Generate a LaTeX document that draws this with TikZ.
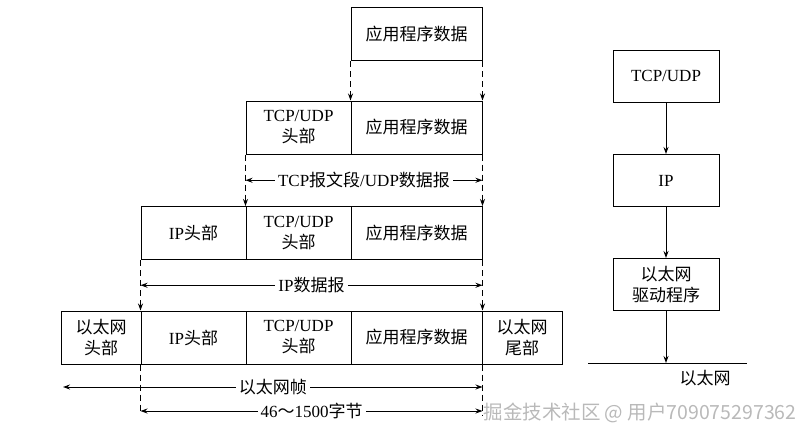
\documentclass[tikz,border=0pt]{standalone}
\usepackage{fontspec}
\setmainfont{Liberation Serif}
\newfontfamily\cjk{Noto Sans CJK SC}
\newcommand{\zh}[1]{{\cjk #1}}
\usetikzlibrary{arrows.meta, calc}

\begin{document}
\begin{tikzpicture}[x=1pt, y=-1pt, line width=1pt,
    cell/.style={draw, minimum height=53pt, inner sep=0pt, align=center, font=\fontsize{17}{21}\selectfont},
    lbl/.style={fill=white, inner sep=3pt, font=\fontsize{17}{21}\selectfont},
    tip/.style={-{Stealth[length=7pt, width=5pt]}},
    both/.style={{Stealth[length=7pt, width=5pt]}-{Stealth[length=7pt, width=5pt]}},
    guide/.style={dash pattern=on 6pt off 4pt}]
  \useasboundingbox (0,0) rectangle (811,440);

  % application layer
  \node[cell, minimum width=131pt] (app1) at (416.5,34) {\zh{应用程序数据}};

  % transport layer
  \node[cell, minimum width=105pt] (tcp2) at (298.5,127.5) {TCP/UDP\\\zh{头部}};
  \node[cell, minimum width=131pt] (app2) at (416.5,127.5) {\zh{应用程序数据}};

  % network layer
  \node[cell, minimum width=105pt] (ip3) at (193.5,233) {IP\zh{头部}};
  \node[cell, minimum width=105pt] (tcp3) at (298.5,233) {TCP/UDP\\\zh{头部}};
  \node[cell, minimum width=131pt] (app3) at (416.5,233) {\zh{应用程序数据}};

  % link layer
  \node[cell, minimum width=80pt] (eth4) at (101,337.5) {\zh{以太网}\\\zh{头部}};
  \node[cell, minimum width=105pt] (ip4) at (193.5,337.5) {IP\zh{头部}};
  \node[cell, minimum width=105pt] (tcp4) at (298.5,337.5) {TCP/UDP\\\zh{头部}};
  \node[cell, minimum width=131pt] (app4) at (416.5,337.5) {\zh{应用程序数据}};
  \node[cell, minimum width=80pt] (tail4) at (522,337.5) {\zh{以太网}\\\zh{尾部}};

  \draw[guide, tip] (app1.south west) -- (app2.north west);
  \draw[guide, tip] (app1.south east) -- (app2.north east);

  \draw[guide, tip] (tcp2.south west) -- (tcp3.north west);
  \draw[guide, tip] (app2.south east) -- (app3.north east);
  \draw[both] ($(tcp2.south west)!.5!(tcp3.north west)$) -- node[lbl] {TCP\zh{报文段}/UDP\zh{数据报}} ($(app2.south east)!.5!(app3.north east)$);

  \draw[guide, tip] (ip3.south west) -- (ip4.north west);
  \draw[guide, tip] (app3.south east) -- (app4.north east);
  \draw[both] ($(ip3.south west)!.5!(ip4.north west)$) -- node[lbl] {IP\zh{数据报}} ($(app3.south east)!.5!(app4.north east)$);

  \coordinate (f0) at (63,387);
  \coordinate (b0) at (ip4.south west |- 0,411);
  \coordinate (b1) at (app4.south east |- 0,411);
  \draw[guide] (ip4.south west) -- (b0);
  \draw[guide] (app4.south east) -- ($(b1)+(0,4)$);
  \draw[both] (f0) -- node[lbl] {\zh{以太网帧}} (f0 -| app4.east);
  \draw[both] (b0) -- node[lbl] {46\zh{～}1500\zh{字节}} (b1);

  % protocol stack
  \node[cell, minimum width=106pt, minimum height=52pt] (tcp) at (666,76) {TCP/UDP};
  \node[cell, minimum width=106pt, minimum height=52pt] (ip) at (666,180.5) {IP};
  \node[cell, minimum width=106pt, minimum height=52pt] (drv) at (666,284.5) {\zh{以太网}\\\zh{驱动程序}};
  \coordinate (bus0) at (588,363);
  \coordinate (bus1) at (747,363);
  \draw[tip] (tcp) -- (ip);
  \draw[tip] (ip) -- (drv);
  \draw (bus0) -- (bus1);
  \draw[tip] (drv) -- (drv |- bus0);
  \node[font=\fontsize{17}{21}\selectfont] (bus) at (705,378) {\zh{以太网}};

  \node[anchor=west, inner sep=0pt, text=gray!55, font=\cjk\fontsize{19.5}{22}\selectfont] (mark) at (483,413) {掘金技术社区 @ 用户709075297362};
\end{tikzpicture}
\end{document}
